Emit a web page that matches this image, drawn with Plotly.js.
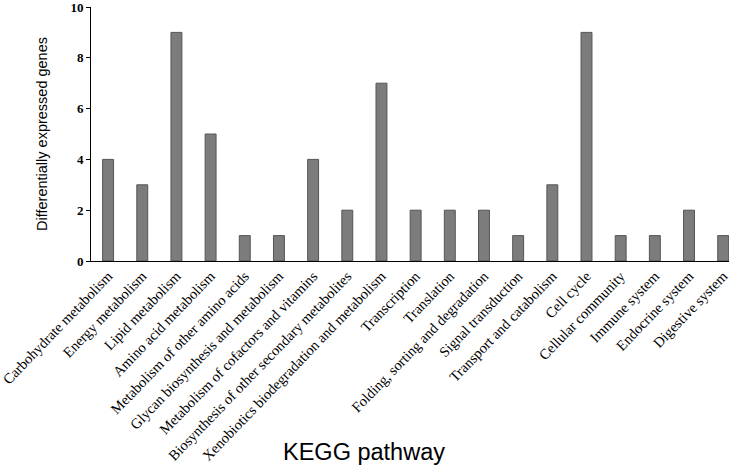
<!DOCTYPE html>
<html>
<head>
<meta charset="utf-8">
<script src="https://cdn.plot.ly/plotly-3.0.1.min.js"></script>
<style>html,body{margin:0;padding:0;background:#fff;}#chart{width:740px;height:475px;}</style>
</head>
<body>
<div id="chart"></div>
<script>
var categories = ["Carbohydrate metabolism","Energy metabolism","Lipid metabolism","Amino acid metabolism","Metabolism of other amino acids","Glycan biosynthesis and metabolism","Metabolism of cofactors and vitamins","Biosynthesis of other secondary metabolites","Xenobiotics biodegradation and metabolism","Transcription","Translation","Folding, sorting and degradation","Signal transduction","Transport and catabolism","Cell cycle","Cellular community","Immune system","Endocrine system","Digestive system"];
var genes = [4,3,9,5,1,1,4,2,7,2,2,2,1,3,9,1,1,2,1];
var yTicks = [0,2,4,6,8,10];

var trace = {
  type: "bar",
  x: categories,
  y: genes,
  width: 0.32,
  marker: {color: "#7c7c7c", line: {color: "#555555", width: 1}},
  hoverinfo: "x+y"
};

var layout = {
  width: 740, height: 475,
  margin: {l: 91, r: 11, t: 7, b: 214},
  paper_bgcolor: "#fff", plot_bgcolor: "#fff",
  showlegend: false,
  xaxis: {
    type: "category",
    range: [-0.5, 18.17],
    showline: true, linecolor: "#000", linewidth: 1,
    ticks: "", tickangle: -46,
    tickfont: {family: "Liberation Serif, Times New Roman, serif", size: 14.5, color: "#000"},
    showgrid: false, zeroline: false
  },
  yaxis: {
    range: [0, 10],
    tickvals: yTicks,
    ticktext: yTicks.map(String),
    ticklabeloverflow: "allow",
    showline: true, linecolor: "#000", linewidth: 1,
    ticks: "outside", ticklen: 4, tickcolor: "#000",
    tickfont: {family: "Liberation Serif, Times New Roman, serif", size: 13, color: "#000", weight: 700},
    showgrid: false, zeroline: false,
    title: {text: "Differentially expressed genes", font: {family: "Liberation Sans, Arial, sans-serif", size: 14.5, color: "#000"}, standoff: 19}
  },
  annotations: [{
    text: "KEGG pathway", xref: "paper", yref: "paper",
    x: 0.428, y: -0.752, xanchor: "center", yanchor: "middle", showarrow: false,
    font: {family: "Liberation Sans, Arial, sans-serif", size: 23.5, color: "#000"}
  }]
};

Plotly.newPlot("chart", [trace], layout, {displayModeBar: false, staticPlot: true});
</script>
</body>
</html>
